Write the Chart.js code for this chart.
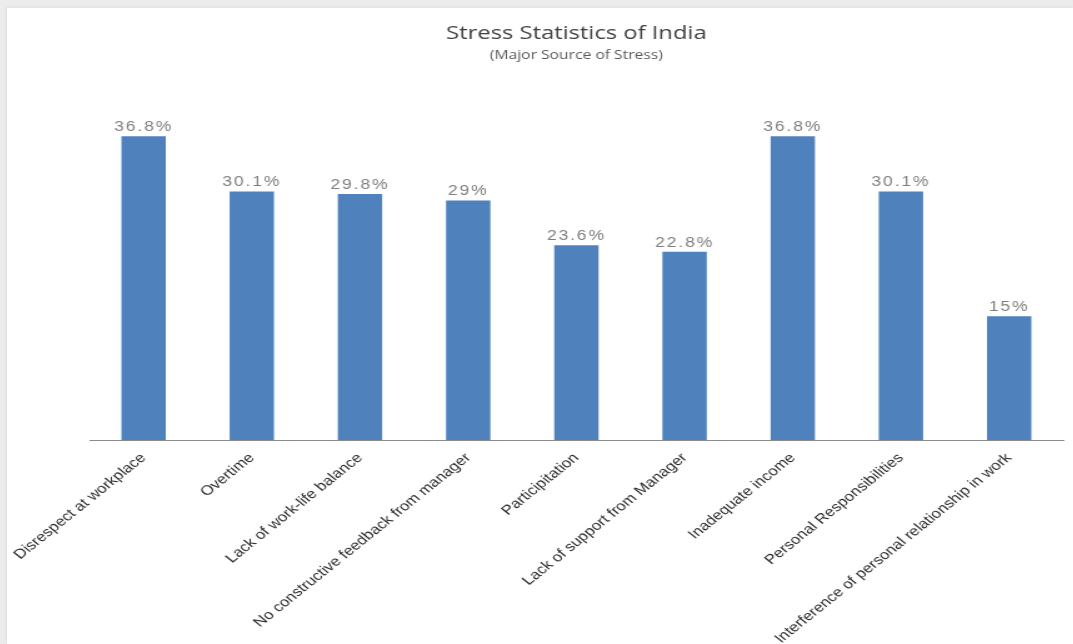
<!DOCTYPE html>
<html>
<head>
<meta charset="utf-8">
<title>Stress Statistics of India</title>
<script src="https://cdn.jsdelivr.net/npm/chart.js@4.4.1/dist/chart.umd.min.js"></script>
<style>
  html, body { margin: 0; padding: 0; }
  body { width: 1073px; height: 644px; background: #ececec; overflow: hidden; position: relative; }
  #frame {
    position: absolute; left: 7px; top: 8px; width: 1066px; height: 636px;
    background: #fff; overflow: hidden;
    box-shadow: -1px -1px 3px rgba(0,0,0,0.06);
  }
  /* the reference is stretched sideways (45deg labels look like ~39deg), so stretch the canvas the same way */
  #chart { position: absolute; left: 0; top: 0; transform: scaleX(1.25); transform-origin: 0 0; }
</style>
</head>
<body>
<div id="frame"><canvas id="chart" width="853" height="636"></canvas></div>
<script>
// ---------- data ----------
const categories = [
  "Disrespect at workplace",
  "Overtime",
  "Lack of work-life balance",
  "No constructive feedback from manager",
  "Participitation",
  "Lack of support from Manager",
  "Inadequate income",
  "Personal Responsibilities",
  "Interference of personal relationship in work"
];
const stressShare = [36.8, 30.1, 29.8, 29, 23.6, 22.8, 36.8, 30.1, 15];
const titleText = "Stress Statistics of India";
const subtitleText = "(Major Source of Stress)";

// ---------- value labels above bars ----------
const valueLabels = {
  id: "valueLabels",
  afterDatasetsDraw(chart) {
    const ctx = chart.ctx;
    const meta = chart.getDatasetMeta(0);
    ctx.save();
    ctx.font = "14px 'Liberation Sans', Arial, sans-serif";
    ctx.fillStyle = "#7f7f7f";
    ctx.textAlign = "center";
    ctx.textBaseline = "bottom";
    if ("letterSpacing" in ctx) ctx.letterSpacing = "1.5px";
    meta.data.forEach((bar, i) => {
      ctx.fillText(stressShare[i] + "%", bar.x, bar.y - 2);
    });
    ctx.restore();
  }
};

new Chart(document.getElementById("chart"), {
  type: "bar",
  data: {
    labels: categories,
    datasets: [{
      data: stressShare,
      backgroundColor: "#4f81bd",
      barPercentage: 0.41,
      categoryPercentage: 1.0
    }]
  },
  options: {
    responsive: false,
    animation: false,
    layout: { padding: { left: 66, right: 8, top: 0, bottom: 0 } },
    plugins: {
      legend: { display: false },
      tooltip: { enabled: false },
      title: {
        display: true,
        text: titleText,
        color: "#404040",
        font: { family: "'Open Sans', sans-serif", size: 19, weight: "normal" },
        padding: { top: 14, bottom: 0 }
      },
      subtitle: {
        display: true,
        text: subtitleText,
        color: "#595959",
        font: { family: "'Open Sans', sans-serif", size: 12.5, weight: "normal" },
        padding: { top: 3, bottom: 47 }
      }
    },
    scales: {
      x: {
        grid: { display: false, drawTicks: false },
        border: { display: true, color: "#8c8c8c", width: 1 },
        ticks: {
          autoSkip: false,
          minRotation: 45,
          maxRotation: 45,
          padding: 10,
          color: "#2b2b2b",
          font: { family: "'Liberation Sans', Arial, sans-serif", size: 13.5 }
        },
        afterFit(scale) {
          scale.height = 204;
          scale.paddingLeft = 0;
          scale.paddingRight = 0;
        }
      },
      y: {
        display: false,
        min: 0,
        max: 40
      }
    }
  },
  plugins: [valueLabels]
});
</script>
</body>
</html>
